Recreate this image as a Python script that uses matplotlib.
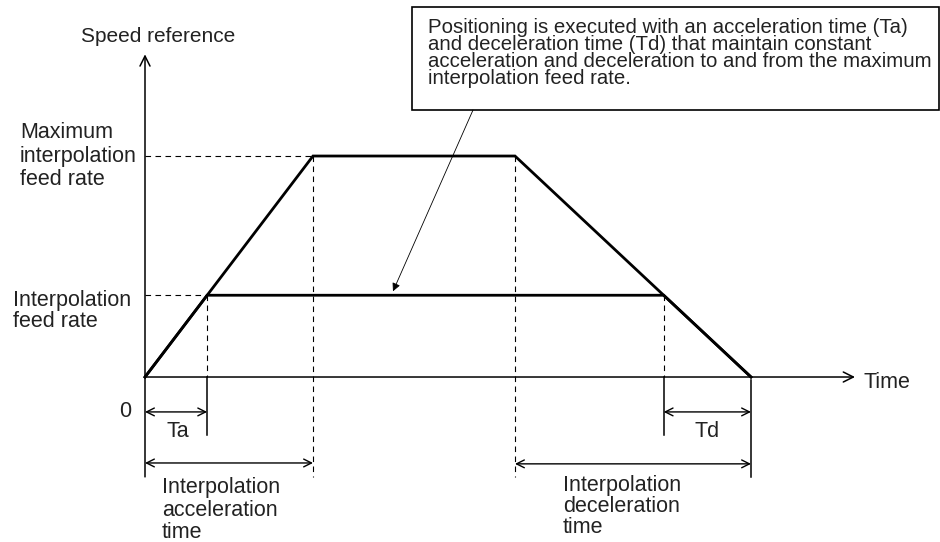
import matplotlib
matplotlib.use("Agg")
import matplotlib.pyplot as plt
from matplotlib.patches import Rectangle

plt.rcParams['font.family'] = ['Liberation Sans', 'DejaVu Sans']

# speed profile (time units, % of max feed rate)
t_acc = 16.8        # end of acceleration
t_dec = 37.0        # start of deceleration
t_end = 60.6        # stop
v_max = 100.0       # maximum interpolation feed rate
v_feed = 37.0       # interpolation feed rate

# constant acceleration -> Ta and Td scale with the feed rate
ta = t_acc * v_feed / v_max
td = (t_end - t_dec) * v_feed / v_max

max_t = [0, t_acc, t_dec, t_end]
max_v = [0, v_max, v_max, 0]
feed_t = [0, ta, t_end - td, t_end]
feed_v = [0, v_feed, v_feed, 0]

note = ("Positioning is executed with an acceleration time (Ta)\n"
        "and deceleration time (Td) that maintain constant\n"
        "acceleration and deceleration to and from the maximum\n"
        "interpolation feed rate.")

fig = plt.figure(figsize=(9.4, 5.42), dpi=100)
ax = fig.add_axes([0, 0, 1, 1])
ax.set_xlim(-14.5, 79.5)
ax.set_ylim(-74.66, 170.6)
ax.axis("off")

fs = 15.5
tc = "#222222"
thin = dict(color="black", lw=1.1)
dash = dict(color="black", lw=0.8, linestyle=(0, (5, 4)))

# axes with open arrow heads
ax.annotate("", xy=(71, 0), xytext=(0, 0),
            arrowprops=dict(arrowstyle="->", lw=1.1, mutation_scale=18, shrinkA=0, shrinkB=0))
ax.annotate("", xy=(0, 146), xytext=(0, -45.2),
            arrowprops=dict(arrowstyle="->", lw=1.1, mutation_scale=18, shrinkA=0, shrinkB=0))

# profiles
ax.plot(max_t, max_v, color="black", lw=2.0, solid_joinstyle="miter")
ax.plot(feed_t, feed_v, color="black", lw=2.0, solid_joinstyle="miter")

# guide lines
ax.plot([0, t_acc], [v_max, v_max], **dash)
ax.plot([0, ta], [v_feed, v_feed], **dash)
ax.plot([t_acc, t_acc], [v_max, -45.2], **dash)
ax.plot([t_dec, t_dec], [v_max, -45.2], **dash)
ax.plot([ta, ta], [v_feed, 0], **dash)
ax.plot([t_end - td, t_end - td], [v_feed, 0], **dash)
ax.plot([ta, ta], [0, -26.2], **thin)
ax.plot([t_end - td, t_end - td], [0, -26.2], **thin)
ax.plot([t_end, t_end], [-1.4, -45.2], **thin)

# dimension arrows
dim = dict(arrowstyle="<->", lw=1.0, mutation_scale=14, shrinkA=0, shrinkB=0)
ax.annotate("", xy=(0, -15.8), xytext=(ta, -15.8), arrowprops=dim)
ax.annotate("", xy=(t_end - td, -15.8), xytext=(t_end, -15.8), arrowprops=dim)
ax.annotate("", xy=(0, -38.9), xytext=(t_acc, -38.9), arrowprops=dim)
ax.annotate("", xy=(t_dec, -39.3), xytext=(t_end, -39.3), arrowprops=dim)

# labels
ax.text(-6.4, 154, "Speed reference", fontsize=15, color=tc, ha="left", va="center")
ax.text(-12.5, 100, "Maximum\ninterpolation\nfeed rate", fontsize=fs, color=tc,
        ha="left", va="center", linespacing=1.18)
ax.text(-13.2, 30, "Interpolation\nfeed rate", fontsize=fs, color=tc,
        ha="left", va="center", linespacing=0.98)
ax.text(-2.0, -15.4, "0", fontsize=fs, color=tc, ha="center", va="center")
ax.text(71.8, -2.7, "Time", fontsize=fs, color=tc, ha="left", va="center")
ax.text(ta / 2 + 0.2, -24.6, "Ta", fontsize=fs, color=tc, ha="center", va="center")
ax.text(t_end - td / 2, -24.6, "Td", fontsize=fs, color=tc, ha="center", va="center")
ax.text(1.7, -60.2, "Interpolation\nacceleration\ntime", fontsize=fs, color=tc,
        ha="left", va="center", linespacing=1.08)
ax.text(41.8, -58.6, "Interpolation\ndeceleration\ntime", fontsize=fs, color=tc,
        ha="left", va="center", linespacing=1.0)

# note box and leader
ax.add_patch(Rectangle((26.7, 120.8), 52.7, 46.6, fill=False, lw=1.2, ec="black"))
ax.text(28.3, 146.5, note, fontsize=14.7, color=tc, ha="left", va="center",
        linespacing=0.87)
ax.annotate("", xy=(24.8, v_feed + 1.8), xytext=(32.8, 120.8),
            arrowprops=dict(arrowstyle="-|>", lw=0.6, mutation_scale=12,
                            color="black", shrinkA=0, shrinkB=0))

fig.savefig("out.png", dpi=100)
